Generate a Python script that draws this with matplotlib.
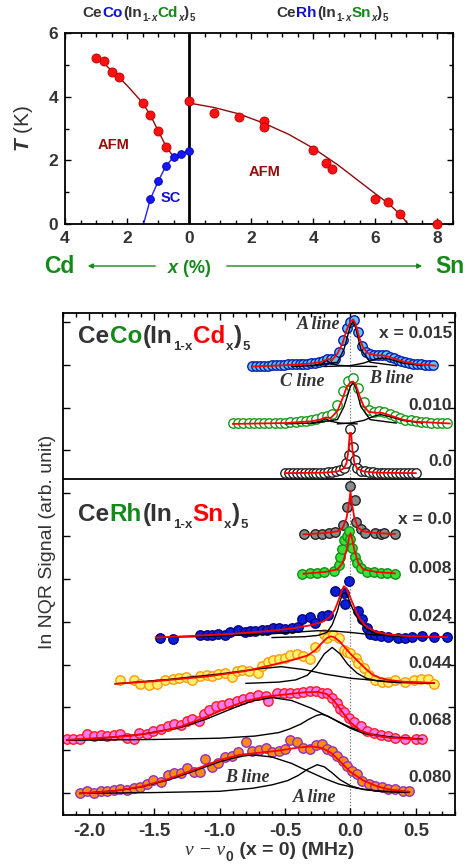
import numpy as np
import matplotlib
matplotlib.use('Agg')
import matplotlib.pyplot as plt
from matplotlib.ticker import MultipleLocator, FuncFormatter
from matplotlib.transforms import IdentityTransform

plt.rcParams['font.family'] = ['Liberation Sans', 'DejaVu Sans']
plt.rcParams['font.weight'] = 'bold'
plt.rcParams['axes.unicode_minus'] = False
plt.rcParams['mathtext.fontset'] = 'custom'
plt.rcParams['mathtext.it'] = 'Liberation Sans:bold:italic'

DARK = '#333333'
GREEN = '#14891a'
BLUE = '#1010d0'

# ---------------- phase diagram data (x in %) ----------------
cd_x = [3.0, 2.75, 2.5, 2.25, 1.5, 1.25, 1.0, 0.75]
cd_tn = [5.21, 5.11, 4.77, 4.61, 3.80, 3.42, 2.92, 2.43]
cd_sc_x = [1.25, 1.0, 0.75, 0.5, 0.25, 0.0]
cd_tc = [0.78, 1.34, 1.82, 2.11, 2.21, 2.30]
sn_x = [0.0, 0.8, 1.6, 2.4, 2.4, 4.0, 4.4, 4.6, 6.0, 6.4, 6.8, 8.0]
sn_tn = [3.85, 3.49, 3.35, 3.25, 3.06, 2.32, 1.93, 1.73, 0.77, 0.69, 0.30, 0.0]

# guide lines
cd_line_x = [3.0, 2.75, 2.5, 2.25, 2.0, 1.75, 1.5, 1.25, 1.0, 0.75, 0.5]
cd_line_t = [5.21, 5.05, 4.82, 4.60, 4.35, 4.08, 3.80, 3.42, 2.93, 2.45, 2.10]
sn_line_x = [0.0, 0.8, 1.6, 2.4, 3.2, 4.0, 4.8, 5.4, 6.0, 6.4, 6.8, 7.05]
sn_line_t = [3.80, 3.66, 3.46, 3.17, 2.82, 2.38, 1.85, 1.40, 0.95, 0.66, 0.30, 0.0]
sc_line_x = [1.47, 1.25, 1.0, 0.75, 0.5, 0.25, 0.0]
sc_line_t = [0.0, 0.78, 1.34, 1.82, 2.11, 2.21, 2.30]

# ---------------- NQR spectra ----------------
co015_x = [-0.75, -0.72, -0.69, -0.66, -0.63, -0.60, -0.57, -0.54, -0.51, -0.48, -0.45, -0.42,
           -0.39, -0.36, -0.33, -0.30, -0.27, -0.24, -0.21, -0.18, -0.15, -0.12, -0.09, -0.06,
           -0.03, 0.00, 0.03, 0.06, 0.09, 0.12, 0.15, 0.18, 0.21, 0.24, 0.27, 0.30, 0.33, 0.36,
           0.39, 0.42, 0.45, 0.48, 0.51, 0.54, 0.57, 0.60, 0.63]
co015_y = [0.01, 0.02, 0.01, 0.02, 0.02, 0.03, 0.03, 0.04, 0.04, 0.05, 0.06, 0.05,
           0.06, 0.07, 0.07, 0.08, 0.09, 0.10, 0.13, 0.18, 0.17, 0.18, 0.35, 0.62,
           0.90, 1.05, 1.08, 0.80, 0.48, 0.33, 0.29, 0.27, 0.27, 0.27, 0.26, 0.23, 0.19, 0.16,
           0.13, 0.11, 0.09, 0.07, 0.06, 0.05, 0.04, 0.04, 0.03]
co015_fit_x = [-0.75, -0.5, -0.3, -0.22, -0.17, -0.14, -0.10, -0.06, -0.03, 0.00, 0.02, 0.04,
               0.07, 0.10, 0.14, 0.20, 0.25, 0.30, 0.40, 0.50, 0.65]
co015_fit_y = [0.00, 0.03, 0.07, 0.11, 0.18, 0.15, 0.30, 0.55, 0.85, 1.05, 1.10, 1.00,
               0.65, 0.42, 0.30, 0.26, 0.26, 0.22, 0.12, 0.06, 0.02]
co015_a_x = [-0.30, -0.10, -0.05, 0.00, 0.02, 0.04, 0.08, 0.15, 0.35]
co015_a_y = [0.01, 0.10, 0.40, 0.95, 1.05, 0.90, 0.40, 0.10, 0.02]
co015_c_x = [-0.45, -0.30, -0.22, -0.18, -0.15, -0.10, 0.00, 0.20]
co015_c_y = [0.00, 0.02, 0.06, 0.15, 0.07, 0.03, 0.01, 0.00]
co015_b_x = [-0.20, 0.00, 0.10, 0.20, 0.25, 0.30, 0.40, 0.55]
co015_b_y = [0.00, 0.02, 0.08, 0.18, 0.20, 0.17, 0.08, 0.02]

co010_x = [-0.90, -0.86, -0.82, -0.78, -0.74, -0.70, -0.66, -0.62, -0.58, -0.54, -0.50, -0.46,
           -0.42, -0.38, -0.34, -0.30, -0.26, -0.22, -0.18, -0.14, -0.10, -0.06, -0.02, 0.02,
           0.06, 0.10, 0.14, 0.18, 0.22, 0.26, 0.30, 0.34, 0.38, 0.42, 0.46, 0.50, 0.54, 0.58,
           0.62, 0.66, 0.70, 0.74]
co010_y = [0.01, 0.01, 0.01, 0.01, 0.01, 0.02, 0.02, 0.02, 0.02, 0.03, 0.03, 0.04,
           0.05, 0.06, 0.07, 0.09, 0.12, 0.17, 0.19, 0.22, 0.45, 0.78, 1.00, 1.07,
           0.85, 0.50, 0.32, 0.27, 0.29, 0.27, 0.22, 0.18, 0.14, 0.10, 0.08, 0.06, 0.05, 0.04,
           0.03, 0.02, 0.02, 0.01]
co010_fit_x = [-0.90, -0.50, -0.30, -0.22, -0.19, -0.15, -0.10, -0.06, -0.03, 0.00, 0.02, 0.04,
               0.07, 0.10, 0.14, 0.20, 0.24, 0.30, 0.40, 0.50, 0.76]
co010_fit_y = [0.00, 0.02, 0.06, 0.11, 0.15, 0.14, 0.30, 0.60, 0.85, 0.97, 0.99, 0.92,
               0.65, 0.42, 0.28, 0.26, 0.26, 0.20, 0.10, 0.05, 0.01]
co010_a_x = [-0.30, -0.10, -0.05, 0.00, 0.02, 0.04, 0.08, 0.15, 0.35]
co010_a_y = [0.01, 0.10, 0.40, 0.88, 0.96, 0.85, 0.40, 0.10, 0.02]
co010_c_x = [-0.50, -0.30, -0.23, -0.19, -0.15, -0.08, 0.05]
co010_c_y = [0.00, 0.02, 0.06, 0.12, 0.06, 0.02, 0.00]
co010_b_x = [-0.10, 0.00, 0.10, 0.18, 0.23, 0.30, 0.40, 0.55]
co010_b_y = [0.00, 0.02, 0.08, 0.18, 0.22, 0.17, 0.08, 0.02]

co000_x = [-0.50, -0.47, -0.44, -0.41, -0.38, -0.35, -0.32, -0.29, -0.26, -0.23, -0.20, -0.17,
           -0.14, -0.11, -0.08, -0.05, -0.038, -0.013, 0.0, 0.02, 0.033, 0.05, 0.08, 0.11,
           0.14, 0.17, 0.20, 0.23, 0.26, 0.29, 0.32, 0.35, 0.38, 0.41, 0.44, 0.47, 0.50]
co000_y = [0.01, 0.01, 0.01, 0.01, 0.01, 0.01, 0.01, 0.02, 0.02, 0.02, 0.02, 0.03,
           0.03, 0.05, 0.08, 0.14, 0.24, 0.44, 1.04, 0.63, 0.32, 0.14, 0.07, 0.05,
           0.03, 0.03, 0.02, 0.02, 0.02, 0.01, 0.01, 0.01, 0.01, 0.01, 0.01, 0.01, 0.01]
co000_fit_x = [-0.50, -0.20, -0.10, -0.05, -0.03, -0.015, -0.005, 0.005, 0.015, 0.03, 0.05,
               0.10, 0.20, 0.50]
co000_fit_y = [0.01, 0.02, 0.05, 0.12, 0.25, 0.55, 0.95, 0.95, 0.55, 0.25, 0.12,
               0.05, 0.02, 0.01]

rh000_x = [-0.357, -0.268, -0.217, -0.166, -0.115, -0.059, -0.025, 0.0, 0.033, 0.045, 0.082,
           0.115, 0.191, 0.230, 0.255, 0.344]
rh000_y = [0.0, 0.02, 0.02, 0.03, 0.05, 0.23, 0.63, 1.13, 0.81, 0.30, 0.12,
           0.04, 0.03, 0.02, 0.03, 0.0]
rh000_fit_x = [-0.36, -0.20, -0.10, -0.06, -0.03, -0.01, 0.0, 0.01, 0.03, 0.06, 0.10, 0.20, 0.34]
rh000_fit_y = [0.0, 0.03, 0.07, 0.15, 0.38, 0.75, 1.0, 0.75, 0.38, 0.15, 0.07, 0.03, 0.01]

rh008_x = [-0.370, -0.306, -0.255, -0.204, -0.128, -0.089, -0.077, -0.064, -0.051, -0.026,
           -0.013, 0.0, 0.013, 0.031, 0.051, 0.077, 0.128, 0.179, 0.230, 0.281, 0.344]
rh008_y = [0.0, 0.02, 0.02, 0.04, 0.07, 0.21, 0.39, 0.57, 0.78, 0.88,
           0.99, 0.81, 0.60, 0.39, 0.25, 0.14, 0.05, 0.04, 0.02, 0.02, 0.0]
rh008_fit_x = [-0.36, -0.20, -0.10, -0.06, -0.03, -0.01, 0.0, 0.01, 0.03, 0.06, 0.10, 0.20, 0.34]
rh008_fit_y = [0.0, 0.04, 0.10, 0.25, 0.55, 0.85, 0.95, 0.85, 0.55, 0.25, 0.10, 0.04, 0.01]

rh024_x = [-1.46, -1.36, -1.15, -1.10, -1.06, -1.01, -0.96, -0.92, -0.86, -0.81,
           -0.77, -0.73, -0.68, -0.64, -0.59, -0.55, -0.50, -0.45, -0.40, -0.37,
           -0.31, -0.27, -0.22, -0.17, -0.12, -0.05, -0.04, -0.01, 0.06, 0.09,
           0.13, 0.15, 0.19, 0.23, 0.29, 0.36, 0.42, 0.47, 0.55, 0.64, 0.74]
rh024_y = [-0.02, -0.03, 0.05, 0.06, 0.05, 0.08, 0.07, 0.12, 0.17, 0.14,
           0.16, 0.15, 0.17, 0.17, 0.22, 0.23, 0.21, 0.22, 0.25, 0.43,
           0.47, 0.33, 0.51, 0.53, 1.09, 1.05, 0.78, 1.32, 0.62, 0.43,
           0.23, 0.09, 0.06, 0.04, 0.02, 0.0, 0.0, 0.02, 0.03, 0.02, 0.02]
rh024_fit_x = [-1.49, -1.2, -1.0, -0.8, -0.6, -0.43, -0.3, -0.22, -0.16, -0.12, -0.09, -0.07,
               -0.05, -0.03, -0.01, 0.02, 0.05, 0.08, 0.12, 0.2, 0.3, 0.45, 0.74]
rh024_fit_y = [0.0, 0.04, 0.07, 0.11, 0.16, 0.22, 0.29, 0.36, 0.47, 0.65, 0.88, 1.08,
               1.20, 1.15, 1.00, 0.78, 0.56, 0.40, 0.26, 0.13, 0.07, 0.03, 0.01]
rh024_a_x = [-0.60, -0.35, -0.25, -0.18, -0.14, -0.10, -0.08, -0.06, -0.04, -0.02, 0.01, 0.04,
             0.08, 0.12, 0.20, 0.35, 0.60]
rh024_a_y = [0.0, 0.02, 0.05, 0.12, 0.30, 0.62, 0.85, 1.02, 1.05, 0.95, 0.72, 0.52,
             0.33, 0.20, 0.08, 0.03, 0.0]
rh024_b_x = [-1.49, -1.2, -0.9, -0.6, -0.4, -0.25, -0.12, 0.0, 0.15, 0.3, 0.5, 0.74]
rh024_b_y = [0.0, 0.02, 0.05, 0.09, 0.13, 0.16, 0.15, 0.12, 0.07, 0.04, 0.02, 0.01]

rh044_x = [-1.76, -1.66, -1.61, -1.54, -1.48, -1.42, -1.36, -1.31, -1.26, -1.21,
           -1.15, -1.10, -1.06, -1.01, -0.96, -0.91, -0.87, -0.83, -0.78, -0.71,
           -0.68, -0.63, -0.59, -0.55, -0.50, -0.46, -0.41, -0.36, -0.31, -0.27,
           -0.20, -0.18, -0.13, -0.09, -0.05, -0.03, 0.00, 0.04, 0.06, 0.10,
           0.14, 0.19, 0.24, 0.29, 0.34, 0.42, 0.49, 0.54, 0.59, 0.64]
rh044_y = [0.09, 0.08, 0.00, -0.02, 0.00, 0.09, 0.12, 0.13, 0.15, 0.09,
           0.19, 0.21, 0.19, 0.23, 0.25, 0.17, 0.30, 0.33, 0.29, 0.25,
           0.41, 0.52, 0.56, 0.58, 0.61, 0.68, 0.69, 0.64, 0.58, 0.87,
           1.16, 1.08, 1.15, 1.07, 0.79, 0.75, 0.72, 0.60, 0.48, 0.37,
           0.21, 0.09, 0.05, 0.05, 0.08, 0.05, 0.09, 0.12, 0.11, 0.0]
rh044_fit_x = [-1.80, -1.5, -1.1, -0.8, -0.6, -0.45, -0.33, -0.27, -0.22, -0.18, -0.15, -0.12,
               -0.08, -0.04, 0.0, 0.06, 0.12, 0.17, 0.23, 0.29, 0.4, 0.64]
rh044_fit_y = [0.0, 0.06, 0.17, 0.30, 0.44, 0.55, 0.66, 0.78, 0.95, 1.07, 1.11, 1.08,
               0.98, 0.84, 0.70, 0.52, 0.34, 0.21, 0.13, 0.09, 0.05, 0.02]
rh044_a_x = [-0.80, -0.55, -0.42, -0.33, -0.26, -0.20, -0.14, -0.08, -0.02, 0.05, 0.12, 0.20,
             0.35, 0.64]
rh044_a_y = [0.01, 0.04, 0.09, 0.20, 0.42, 0.70, 0.85, 0.70, 0.45, 0.25, 0.13, 0.07, 0.03, 0.01]
rh044_b_x = [-1.80, -1.40, -1.00, -0.70, -0.53, -0.35, -0.20, 0.00, 0.30, 0.64]
rh044_b_y = [0.0, 0.10, 0.23, 0.35, 0.40, 0.33, 0.23, 0.13, 0.05, 0.02]

rh068_x = [-2.17, -2.12, -2.07, -2.02, -1.96, -1.91, -1.86, -1.81, -1.76, -1.71,
           -1.66, -1.62, -1.56, -1.51, -1.45, -1.40, -1.35, -1.30, -1.25, -1.21,
           -1.16, -1.12, -1.08, -1.03, -0.98, -0.93, -0.87, -0.82, -0.77, -0.71,
           -0.65, -0.63, -0.56, -0.51, -0.46, -0.41, -0.36, -0.31, -0.26, -0.22,
           -0.18, -0.14, -0.10, -0.08, -0.05, -0.01, 0.03, 0.08, 0.13, 0.18,
           0.23, 0.29, 0.34, 0.42, 0.50, 0.55]
rh068_y = [0.02, 0.02, 0.04, 0.14, 0.10, 0.12, 0.10, 0.12, 0.14, 0.06,
           0.04, 0.16, 0.14, 0.22, 0.26, 0.33, 0.37, 0.35, 0.45, 0.49,
           0.45, 0.61, 0.71, 0.79, 0.82, 0.88, 0.92, 0.96, 1.02, 1.07,
           1.04, 0.92, 1.10, 1.11, 1.10, 1.11, 1.13, 1.15, 1.15, 1.11,
           1.10, 1.00, 0.88, 0.72, 0.65, 0.51, 0.43, 0.33, 0.22, 0.16,
           0.12, 0.09, 0.06, 0.04, 0.04, 0.02]
rh068_fit_x = [-2.17, -1.9, -1.7, -1.5, -1.3, -1.1, -0.95, -0.8, -0.65, -0.5, -0.35, -0.25,
               -0.18, -0.12, -0.06, 0.0, 0.08, 0.18, 0.3, 0.55]
rh068_fit_y = [0.01, 0.06, 0.10, 0.18, 0.32, 0.55, 0.75, 0.92, 1.02, 1.07, 1.12, 1.13,
               1.08, 0.90, 0.65, 0.42, 0.22, 0.12, 0.06, 0.02]
rh068_a_x = [-2.17, -1.5, -1.0, -0.73, -0.55, -0.47, -0.38, -0.32, -0.26, -0.22, -0.17, -0.1,
             0.0, 0.1, 0.25, 0.55]
rh068_a_y = [0.0, 0.02, 0.05, 0.10, 0.18, 0.26, 0.38, 0.49, 0.58, 0.61, 0.56, 0.44,
             0.28, 0.16, 0.08, 0.02]
rh068_b_x = [-2.17, -1.9, -1.6, -1.3, -1.1, -0.9, -0.75, -0.6, -0.45, -0.3, -0.2, -0.1,
             0.0, 0.15, 0.3, 0.55]
rh068_b_y = [0.01, 0.05, 0.14, 0.30, 0.50, 0.75, 0.92, 1.0, 0.93, 0.75, 0.60, 0.45,
             0.30, 0.15, 0.08, 0.03]

rh080_x = [-2.07, -2.02, -1.96, -1.91, -1.86, -1.81, -1.76, -1.71, -1.66, -1.61,
           -1.56, -1.51, -1.45, -1.40, -1.35, -1.30, -1.25, -1.20, -1.15, -1.11,
           -1.06, -1.01, -0.96, -0.91, -0.86, -0.80, -0.75, -0.70, -0.65, -0.60,
           -0.55, -0.50, -0.46, -0.41, -0.36, -0.31, -0.26, -0.22, -0.18, -0.14,
           -0.10, -0.06, -0.03, 0.01, 0.05, 0.09, 0.14, 0.19, 0.24, 0.29,
           0.34, 0.40, 0.45]
rh080_y = [0.0, 0.05, 0.02, 0.05, 0.06, 0.08, 0.10, 0.08, 0.12, 0.16,
           0.22, 0.31, 0.26, 0.44, 0.47, 0.47, 0.59, 0.51, 0.49, 0.80,
           0.61, 0.72, 0.84, 0.88, 0.96, 1.21, 1.00, 1.01, 1.06, 0.96,
           1.00, 1.04, 1.25, 1.19, 1.07, 1.04, 1.14, 1.15, 1.04, 1.00,
           0.88, 0.76, 0.65, 0.53, 0.45, 0.30, 0.22, 0.18, 0.14, 0.10,
           0.10, 0.06, 0.05]
rh080_fit_x = [-2.07, -1.8, -1.6, -1.4, -1.2, -1.0, -0.85, -0.7, -0.55, -0.4, -0.3, -0.22,
               -0.15, -0.08, 0.0, 0.1, 0.2, 0.3, 0.45]
rh080_fit_y = [0.0, 0.06, 0.16, 0.33, 0.55, 0.78, 0.90, 0.95, 1.00, 1.07, 1.10, 1.06,
               0.95, 0.75, 0.50, 0.30, 0.17, 0.09, 0.04]
rh080_a_x = [-2.07, -1.5, -1.0, -0.75, -0.6, -0.48, -0.4, -0.33, -0.255, -0.2, -0.14, -0.08,
             0.0, 0.1, 0.25, 0.45]
rh080_a_y = [0.0, 0.02, 0.05, 0.12, 0.20, 0.30, 0.42, 0.56, 0.67, 0.62, 0.48, 0.32,
             0.18, 0.09, 0.04, 0.02]
rh080_b_x = [-2.07, -1.8, -1.6, -1.4, -1.2, -1.0, -0.85, -0.75, -0.6, -0.45, -0.36, -0.2,
             -0.09, 0.05, 0.2, 0.45]
rh080_b_y = [0.0, 0.06, 0.15, 0.31, 0.52, 0.74, 0.86, 0.90, 0.85, 0.70, 0.57, 0.35,
             0.22, 0.12, 0.06, 0.03]

labels = ['x = 0.015', '0.010', '0.0', 'x = 0.0', '0.008', '0.024', '0.044', '0.068', '0.080']
label_y = [11.74, 10.05, 8.75, 7.39, 6.25, 5.12, 4.02, 2.69, 1.37]

W, H = 471, 868
fig = plt.figure(figsize=(W / 100, H / 100), dpi=100)
renderer = fig.canvas.get_renderer()


def chain(x0, top, parts):
    """Write coloured pieces on one baseline; x0, top = pixels from the top-left corner."""
    x = x0
    for s, size, color, style, rise, fam in parts:
        kw = dict(fontsize=size, color=color, style=style, fontweight='bold')
        if fam is not None:
            kw['family'] = fam
            kw['fontweight'] = 'normal'
        t = fig.text(x, H - top + rise * 100 / 72, s, transform=IdentityTransform(),
                     ha='left', va='baseline', **kw)
        x = t.get_window_extent(renderer).x1 + 0.5


def formula(x0, top, metal, mcol, dop, dcol, big, small, rise, italic_x):
    xs = 'italic' if italic_x else 'normal'
    parts = [('Ce', big, DARK, 'normal', 0, None), (metal, big, mcol, 'normal', 0, None),
             ('(In', big, DARK, 'normal', 0, None), ('1-', small, DARK, 'normal', rise, None),
             ('x', small, DARK, xs, rise, None), (dop, big, dcol, 'normal', 0, None),
             ('x', small, DARK, xs, rise, None), (')', big, DARK, 'normal', 0, None),
             ('5', small, DARK, 'normal', rise, None)]
    chain(x0, top, parts)


# ================= top panel: phase diagram =================
ax1 = fig.add_axes([65 / W, 1 - 224 / H, 388 / W, 191 / H])
ax1.plot(-np.array(cd_line_x), cd_line_t, color='#8b0a0a', lw=1.0)
ax1.plot(sn_line_x, sn_line_t, color='#8b0a0a', lw=1.0)
ax1.plot(-np.array(sc_line_x), sc_line_t, color='#2020ff', lw=1.0)
ax1.axvline(0, color='black', lw=2.0)
ax1.plot(-np.array(cd_x), cd_tn, 'o', ms=6.5, mfc='#ff1010', mec='#b00000', mew=0.6, clip_on=False)
ax1.plot(sn_x, sn_tn, 'o', ms=6.5, mfc='#ff1010', mec='#b00000', mew=0.6, clip_on=False, zorder=5)
ax1.plot(-np.array(cd_sc_x), cd_tc, 'o', ms=5.6, mfc='#1515ff', mec='#0000a0', mew=0.6, clip_on=False)
ax1.set_xlim(-4, 8.5)
ax1.set_ylim(0, 6)
ax1.xaxis.set_major_locator(MultipleLocator(2))
ax1.xaxis.set_minor_locator(MultipleLocator(0.5))
ax1.yaxis.set_major_locator(MultipleLocator(2))
ax1.yaxis.set_minor_locator(MultipleLocator(1))
ax1.xaxis.set_major_formatter(FuncFormatter(lambda v, p: '%d' % abs(round(v))))
ax1.tick_params(which='both', direction='in', top=True, right=True, width=1, labelsize=12.5,
                labelcolor=DARK)
ax1.tick_params(which='major', length=4, pad=5)
ax1.tick_params(which='minor', length=3)
for s in ax1.spines.values():
    s.set_linewidth(1.3)
ax1.set_ylabel('$T$ (K)', fontsize=15, color=DARK)
ax1.yaxis.set_label_coords(-0.077, 0.5)
ax1.text(-2.44, 2.47, 'AFM', color='#9b0a0a', fontsize=10.5, ha='center', va='center')
ax1.text(2.43, 1.64, 'AFM', color='#9b0a0a', fontsize=10.5, ha='center', va='center')
ax1.text(-0.59, 0.82, 'SC', color=BLUE, fontsize=10.5, ha='center', va='center')

formula(82, 17, 'Co', BLUE, 'Cd', GREEN, 11, 7, -3, True)
formula(276, 17, 'Rh', BLUE, 'Sn', GREEN, 11, 7, -3, True)

fig.text(59 / W, 1 - 267 / H, 'Cd', color=GREEN, fontsize=16.5, ha='center', va='center')
fig.text(450 / W, 1 - 267 / H, 'Sn', color=GREEN, fontsize=16.5, ha='center', va='center')
chain(168, 273, [('x', 13, GREEN, 'italic', 0, None), (' (%)', 13, GREEN, 'normal', 0, None)])
ax1.annotate('', xy=(85 / W, 1 - 266 / H), xytext=(158 / W, 1 - 266 / H),
             xycoords='figure fraction', textcoords='figure fraction',
             arrowprops=dict(arrowstyle='-|>', color=GREEN, lw=1.0, mutation_scale=7))
ax1.annotate('', xy=(425 / W, 1 - 266 / H), xytext=(224 / W, 1 - 266 / H),
             xycoords='figure fraction', textcoords='figure fraction',
             arrowprops=dict(arrowstyle='-|>', color=GREEN, lw=1.0, mutation_scale=7))

# ================= bottom panel: NQR spectra =================
ax2 = fig.add_axes([63 / W, 1 - 815 / H, 392 / W, 502 / H])

spectra = [
    (co015_x, co015_y, co015_fit_x, co015_fit_y,
     [(co015_a_x, co015_a_y), (co015_c_x, co015_c_y), (co015_b_x, co015_b_y)],
     dict(mfc='#58c8f2', mec='#0a1ab4')),
    (co010_x, co010_y, co010_fit_x, co010_fit_y,
     [(co010_a_x, co010_a_y), (co010_c_x, co010_c_y), (co010_b_x, co010_b_y)],
     dict(mfc='white', mec='#169a16')),
    (co000_x, co000_y, co000_fit_x, co000_fit_y, [], dict(mfc='white', mec='#222222')),
    (rh000_x, rh000_y, rh000_fit_x, rh000_fit_y, [], dict(mfc='#8a8a8a', mec='#222222')),
    (rh008_x, rh008_y, rh008_fit_x, rh008_fit_y, [], dict(mfc='#3ae03a', mec='#138f13')),
    (rh024_x, rh024_y, rh024_fit_x, rh024_fit_y,
     [(rh024_a_x, rh024_a_y), (rh024_b_x, rh024_b_y)], dict(mfc='#0b1ed8', mec='#050580')),
    (rh044_x, rh044_y, rh044_fit_x, rh044_fit_y,
     [(rh044_a_x, rh044_a_y), (rh044_b_x, rh044_b_y)], dict(mfc='#fff06a', mec='#ff9a10')),
    (rh068_x, rh068_y, rh068_fit_x, rh068_fit_y,
     [(rh068_a_x, rh068_a_y), (rh068_b_x, rh068_b_y)], dict(mfc='#ff78f0', mec='#ff1c1c')),
    (rh080_x, rh080_y, rh080_fit_x, rh080_fit_y,
     [(rh080_a_x, rh080_a_y), (rh080_b_x, rh080_b_y)], dict(mfc='#ff8a10', mec='#9030c0')),
]
baselines = [10.96, 9.62, 8.46, 7.04, 6.12, 4.63, 3.55, 2.23, 0.99]

ax2.axvline(0, color='#777777', lw=0.9, ls=(0, (1, 1.5)), zorder=1)
ax2.axhline(8.34, color='black', lw=1.3)
for (dx, dy, fx, fy, comps, st), b in zip(spectra, baselines):
    ax2.plot(dx, np.array(dy) + b, 'o', ms=6.8, mew=1.0, zorder=2, **st)
    for cx, cy in comps:
        ax2.plot(cx, np.array(cy) + b, color='black', lw=1.0, zorder=3)
    ax2.plot(fx, np.array(fy) + b, color='#ff0000', lw=1.3, zorder=4)

for s, y in zip(labels, label_y):
    ax2.text(0.778, y, s, ha='right', va='center', fontsize=12.5, color=DARK)

serif = dict(family='Liberation Serif', style='italic', fontweight='bold', fontsize=13, color=DARK,
             ha='center', va='center')
ax2.text(-0.24, 11.93, 'A line', **serif)
ax2.text(-0.37, 10.61, 'C line', **serif)
ax2.text(0.31, 10.69, 'B line', **serif)
ax2.text(-0.79, 1.37, 'B line', **serif)
ax2.text(-0.27, 0.90, 'A line', **serif)

formula(78, 343, 'Co', GREEN, 'Cd', '#ff0000', 17.5, 9.5, -5, False)
formula(78, 521, 'Rh', GREEN, 'Sn', '#ff0000', 17.5, 9.5, -5, False)

ax2.set_xlim(-2.2, 0.8)
ax2.set_ylim(0.486, 12.21)
ax2.xaxis.set_major_locator(MultipleLocator(0.5))
ax2.xaxis.set_minor_locator(MultipleLocator(0.1))
ax2.yaxis.set_major_locator(MultipleLocator(1))
ax2.yaxis.set_major_formatter(FuncFormatter(lambda v, p: ''))
ax2.tick_params(which='both', direction='in', top=True, right=True, width=1, labelsize=13.5,
                labelcolor=DARK)
ax2.tick_params(which='major', length=5, pad=6)
ax2.tick_params(which='minor', length=3)
for s in ax2.spines.values():
    s.set_linewidth(1.3)
ax2.set_ylabel('In NQR Signal (arb. unit)', fontsize=14, color=DARK)
ax2.yaxis.set_label_coords(-0.018, 0.544)

chain(185, 855, [('\u03bd \u2212 \u03bd', 14, DARK, 'italic', 0, 'Liberation Serif'),
                 ('0', 10, DARK, 'normal', -4, None),
                 (' (x = 0) (MHz)', 14, DARK, 'normal', 0, None)])

fig.savefig('out.png', dpi=100)
